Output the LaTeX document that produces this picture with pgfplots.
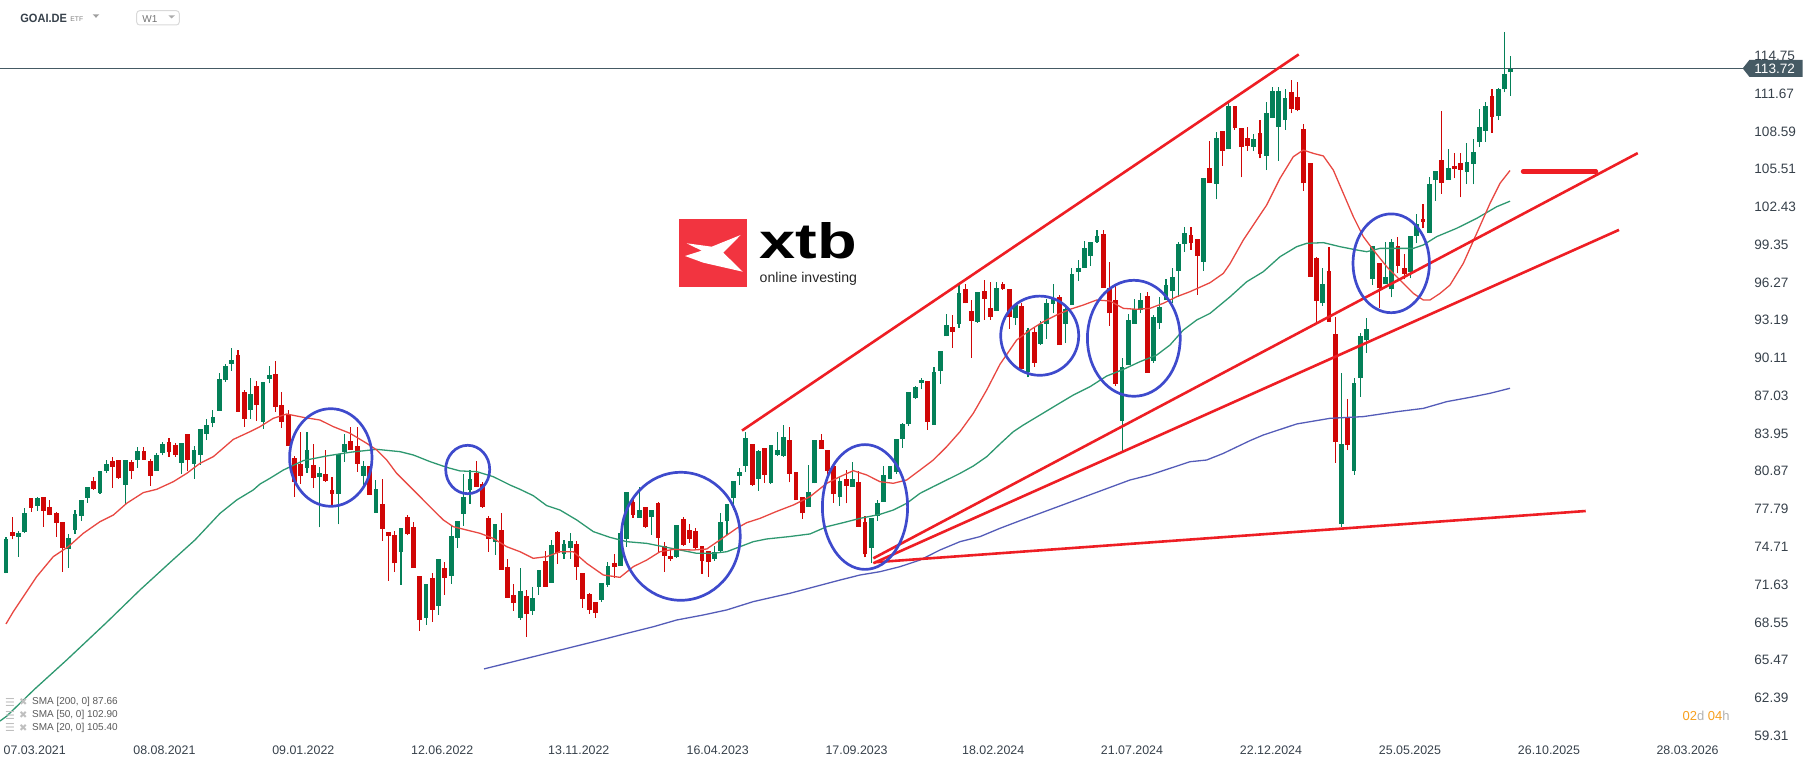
\documentclass[border=0pt]{standalone}
\usepackage{fontspec}
\setmainfont{Liberation Sans}
\newfontfamily\dejavu{DejaVu Sans}
\newfontfamily\logofont{Liberation Sans}
\usepackage{graphicx}
\usepackage{pgfplots}
\usepackage{pgfplotstable}
\pgfplotsset{compat=1.18}

\definecolor{cgreen}{RGB}{4,128,88}
\definecolor{cred}{RGB}{208,6,6}
\definecolor{smared}{RGB}{232,72,66}
\definecolor{smagreen}{RGB}{46,152,112}
\definecolor{smablue}{RGB}{84,92,184}
\definecolor{trend}{RGB}{238,30,36}
\definecolor{ring}{RGB}{62,74,204}
\definecolor{axtext}{RGB}{55,65,75}
\definecolor{pricebox}{RGB}{69,90,100}
\definecolor{xtbred}{RGB}{242,52,64}
\definecolor{cdorange}{RGB}{247,160,30}

% weekly candles, w = week index (0 = 07.03.2021)
\pgfplotstableread{
w o h l c
-3 72.60 75.54 72.55 75.32
-1 75.54 76.00 73.91 75.84
0 75.92 77.85 75.87 77.47
2 78.04 78.80 77.63 78.69
7 74.56 75.75 73.01 75.43
8 76.11 77.71 75.78 77.39
9 77.25 78.53 76.84 78.53
10 78.72 79.59 78.31 79.59
12 79.10 80.90 79.02 80.90
13 80.92 81.79 80.76 81.47
16 79.78 81.79 78.20 81.79
18 81.82 82.88 81.14 82.52
21 80.92 82.33 80.92 82.20
22 82.39 83.26 82.17 83.10
25 81.57 83.15 80.65 83.15
27 81.49 82.96 80.27 82.58
28 82.20 84.32 81.41 84.32
29 83.94 85.14 83.42 84.64
30 84.84 85.87 84.46 85.30
31 85.82 88.89 85.82 88.40
32 88.32 89.60 88.18 89.46
33 89.65 90.93 89.08 89.95
36 85.90 88.51 85.16 87.17
38 84.92 88.15 84.35 88.15
39 88.40 89.46 88.04 88.72
45 81.17 84.07 80.76 82.61
47 80.43 81.25 76.30 80.73
50 79.05 82.28 76.54 82.28
51 82.47 83.91 81.66 83.10
54 80.51 81.68 79.62 81.30
56 77.50 80.16 77.50 79.43
60 74.31 76.25 71.62 76.25
64 68.93 71.68 68.36 71.68
66 69.91 73.72 69.18 73.72
68 72.36 76.52 71.70 75.59
69 75.46 76.82 74.64 76.82
70 77.41 80.65 76.44 78.77
71 79.37 80.98 78.23 80.24
75 75.13 76.57 74.07 76.57
79 68.93 73.01 68.77 71.10
81 69.50 71.41 69.18 70.56
82 71.46 72.82 70.78 72.82
84 71.79 75.27 71.79 74.86
86 74.15 75.27 73.74 74.94
87 74.64 75.84 73.74 75.18
92 70.40 71.76 70.24 71.76
93 71.62 73.47 71.46 73.15
95 73.17 75.84 73.17 75.84
96 75.38 79.18 74.72 79.18
98 77.09 79.62 77.09 77.69
100 77.12 77.69 75.70 77.69
104 73.91 76.49 73.82 76.49
110 73.74 74.78 73.58 74.29
111 74.37 77.47 74.23 76.73
112 76.82 78.23 75.70 78.23
113 78.72 80.08 77.74 80.08
114 80.49 81.14 79.75 80.81
115 81.33 84.05 80.84 83.59
117 80.27 82.61 79.29 82.52
119 79.94 83.02 79.86 83.02
120 82.23 84.07 82.15 82.61
121 82.12 84.64 82.04 83.67
125 77.98 81.38 77.98 79.15
126 79.89 83.40 79.89 83.40
130 78.75 80.40 78.07 80.08
132 79.62 81.63 79.62 80.24
135 74.64 77.09 73.36 77.09
136 77.25 78.53 76.84 78.28
137 78.39 81.30 78.39 80.57
138 80.27 81.30 80.27 81.30
139 80.81 83.50 80.65 83.50
140 83.53 84.78 82.80 84.70
141 84.73 87.36 84.59 87.36
142 86.88 87.85 86.79 87.77
143 88.10 88.45 87.56 88.32
145 84.65 89.40 84.65 88.97
146 89.08 90.71 88.02 90.71
147 91.88 93.70 91.88 92.83
149 92.91 96.15 92.58 95.41
152 93.07 95.49 92.99 95.49
155 93.97 96.31 93.97 95.82
158 93.35 94.43 92.80 94.43
160 88.97 92.56 88.53 92.39
162 91.25 93.15 91.17 92.88
163 92.91 94.92 91.68 94.62
164 94.54 96.12 93.75 94.89
166 92.91 94.35 91.33 94.08
167 94.43 97.42 94.43 96.96
168 97.10 98.10 96.39 97.48
169 97.48 99.63 97.48 99.08
170 98.43 99.60 97.64 99.60
171 99.60 100.55 99.52 100.09
175 85.00 90.14 82.52 89.40
176 89.54 93.70 89.54 93.21
177 92.91 94.95 92.91 94.08
178 94.02 95.44 93.75 94.84
180 89.86 93.62 89.73 93.48
181 92.99 95.11 92.50 94.30
182 94.84 96.53 94.84 96.06
183 95.60 97.42 94.57 96.69
184 97.20 99.60 95.11 99.41
185 99.41 100.82 98.78 100.33
188 97.97 104.76 97.23 104.76
190 104.33 108.54 103.05 108.05
192 107.13 110.88 107.13 110.69
196 107.35 108.35 106.99 107.97
198 106.59 110.99 105.44 110.07
199 109.71 112.24 109.71 111.92
200 108.98 112.24 106.20 111.92
201 109.52 112.08 108.71 111.34
207 94.57 97.42 94.38 96.14
210 76.57 88.91 76.30 83.09
212 80.92 88.45 80.57 88.10
213 88.51 92.12 86.96 91.93
214 91.58 93.35 90.55 92.47
215 96.55 99.24 96.06 99.24
217 96.14 99.57 96.14 96.74
218 95.71 99.82 95.06 99.54
221 97.10 100.06 96.61 100.06
222 100.09 101.85 99.46 101.01
224 100.33 104.90 100.28 104.30
225 104.63 105.36 102.94 105.36
227 104.63 107.16 104.63 105.63
230 105.31 107.67 104.30 106.10
231 105.96 108.00 104.28 106.91
232 107.75 110.42 107.35 108.92
233 108.65 111.02 107.75 110.69
235 109.85 112.16 109.52 112.05
236 112.02 116.68 111.77 113.25
237 113.40 114.75 111.48 113.72
}\upc

\pgfplotstableread{
w o h l c
-2 75.92 77.14 75.32 75.62
1 78.69 78.69 77.55 77.90
3 78.77 78.77 76.35 77.63
4 77.96 78.53 77.28 77.33
5 77.47 77.55 75.54 76.68
6 76.74 76.74 72.68 74.61
11 80.08 80.43 79.35 79.43
14 81.71 82.06 79.53 81.25
15 81.79 81.79 80.24 80.35
17 81.63 81.79 80.24 80.92
19 82.52 82.88 81.82 81.82
20 81.71 81.90 79.70 80.51
23 83.26 83.61 82.04 82.44
24 82.99 83.15 82.04 82.23
26 83.91 83.91 80.92 81.79
34 90.36 90.76 85.73 85.73
35 87.34 87.50 84.51 85.16
37 87.83 88.24 85.00 86.31
40 88.81 89.86 85.73 86.14
41 86.28 87.34 84.43 84.92
42 85.54 85.87 82.96 82.96
43 81.95 82.12 78.80 80.02
44 81.47 84.07 79.86 80.51
46 81.41 83.10 79.53 80.35
48 80.65 82.61 80.02 80.10
49 79.35 80.43 77.98 79.05
52 83.31 84.48 82.63 82.63
53 82.93 84.48 80.84 81.49
55 81.30 81.30 78.96 78.96
57 78.20 80.24 75.21 76.19
58 75.92 75.92 71.95 75.62
59 75.67 76.00 72.68 73.36
61 77.14 77.31 75.67 75.75
62 76.33 76.73 73.01 73.01
63 72.33 72.33 67.87 68.77
65 72.17 72.57 68.61 69.58
67 72.98 73.45 70.78 72.19
72 80.73 81.71 79.62 79.62
73 79.86 80.02 77.90 77.98
74 77.06 77.22 74.31 75.38
76 76.08 77.47 72.85 72.85
77 73.06 73.72 70.56 70.56
78 70.78 71.68 69.50 70.16
80 70.70 71.19 67.38 69.26
83 73.55 74.37 71.46 71.46
85 75.92 76.00 73.34 74.23
88 74.94 75.18 72.03 73.09
89 72.60 72.60 69.75 70.48
90 70.89 70.97 69.26 69.58
91 70.24 70.24 68.93 69.34
94 73.39 74.12 72.19 73.09
97 78.36 78.72 77.09 77.33
99 77.96 77.96 76.27 76.35
101 78.28 78.36 74.31 75.46
102 74.80 75.13 72.68 73.99
103 73.96 74.45 73.58 73.74
105 76.98 77.14 74.80 74.89
106 76.08 76.57 75.05 75.38
107 76.00 76.25 74.53 74.64
108 74.78 74.78 72.52 73.58
109 74.37 74.37 72.27 73.50
116 83.10 83.10 79.70 79.78
118 82.77 82.77 79.94 80.59
122 83.40 84.51 79.97 80.65
123 80.81 80.81 78.50 78.50
124 78.75 78.75 77.01 77.44
127 83.40 83.94 82.69 82.69
128 82.61 82.61 80.16 80.92
129 81.30 81.30 78.31 79.02
131 80.24 80.98 78.26 79.70
133 80.00 80.89 76.35 76.35
134 76.76 77.25 73.85 74.10
144 88.23 88.23 84.27 84.92
148 92.61 93.62 90.95 92.26
150 95.74 96.15 94.57 94.57
151 93.94 94.84 90.14 93.16
153 95.58 96.47 93.21 94.95
154 94.16 96.31 93.21 93.46
156 96.15 96.31 95.66 95.74
157 95.74 95.74 92.48 93.48
159 94.35 94.57 89.24 89.24
161 92.20 92.66 89.40 89.73
165 95.05 95.22 91.17 91.17
172 100.22 100.55 95.84 95.84
173 95.84 97.91 92.75 93.75
174 94.84 95.98 87.82 87.99
179 95.14 95.52 88.91 88.91
186 100.14 100.82 98.92 99.52
187 99.79 99.79 95.25 98.45
189 105.61 107.84 104.38 104.38
191 108.62 108.62 105.80 107.02
193 110.69 110.69 108.71 108.90
194 108.90 108.90 104.85 107.35
195 108.05 108.98 107.02 107.43
197 108.46 109.52 106.40 106.72
202 111.83 112.78 110.07 110.45
203 111.40 112.62 110.23 110.34
204 108.82 109.20 103.76 104.36
205 105.99 105.99 96.74 96.74
206 98.24 98.37 93.00 94.79
208 97.23 99.19 93.07 93.07
209 92.07 93.48 81.57 83.29
211 85.27 86.74 82.60 83.01
216 97.89 97.89 94.16 95.79
219 99.24 99.95 97.01 97.64
220 97.45 98.59 96.53 96.99
223 101.45 102.67 100.69 101.18
226 106.26 110.25 103.49 104.41
228 105.80 106.80 104.76 105.55
229 106.01 106.80 103.21 105.47
234 111.48 112.08 108.49 109.79
}\downc

% moving averages (x in pixel columns of the chart, y = price)
\pgfplotstableread{
x y
6 68.42
13.3 69.42
36.7 72.28
53.3 73.91
68.3 74.72
83.3 75.81
100 76.76
113.3 77.30
126.7 78.26
143.3 79.13
156.7 79.40
173.3 80.02
186.7 80.70
200 81.52
213.3 82.06
233.3 83.47
250 84.10
260 84.51
273.3 85.19
286.7 85.54
303.3 85.27
320 85.05
333.3 84.51
350 83.97
366.7 83.15
376.7 82.61
386.7 81.79
396.7 80.70
413.3 79.35
430 77.98
443.3 76.90
453.3 76.35
466.7 76.08
480 75.81
493.3 75.40
506.7 74.72
520 74.31
533.3 73.77
546.7 73.91
560 74.31
573.3 74.31
586.7 73.36
603.3 72.41
620 72.22
633.3 73.09
646.7 73.63
660 74.31
673.3 74.50
693.3 74.45
706.7 74.53
720 75.27
736.7 76.22
746.7 76.68
760 77.03
776.7 77.60
793.3 78.12
810 78.80
826.7 79.89
840 80.43
853.3 80.92
866.7 80.57
880 80.02
893.3 79.89
906.7 80.16
920 80.97
933.3 81.79
946.7 82.88
960 84.10
973.3 85.60
986.7 87.50
1000 89.60
1016.7 91.58
1030 92.39
1043.3 93.07
1056.7 93.62
1070 94.08
1083.3 94.43
1096.7 94.84
1110 94.76
1123.3 94.16
1136.7 94.08
1150 94.16
1163.3 94.57
1176.7 95.11
1190 95.52
1210 96.25
1223.3 97.01
1230 97.80
1243.3 99.73
1256.7 101.37
1266.7 102.59
1280 104.76
1293.3 106.53
1303.3 107.07
1313.3 106.80
1323.3 106.59
1333.3 105.44
1343.3 103.54
1353.3 101.64
1363.3 100.01
1373.3 98.92
1386.7 97.56
1400 96.47
1413.3 95.38
1423.3 94.84
1430 94.84
1440 95.38
1450 96.06
1463.3 97.83
1476.7 100.28
1490 102.72
1500 104.36
1510 105.40
}\smaTwenty

\pgfplotstableread{
x y
0 60.50
6.7 60.90
35 63.13
66.7 65.48
106.7 68.55
140 71.19
170 73.43
195 75.27
220 77.44
236.7 78.53
253.3 79.35
260 79.83
270 80.30
283.3 80.97
303.3 81.74
326.7 82.12
350 82.42
376.7 82.66
400 82.47
413.3 82.20
430 81.66
446.7 81.19
460 80.90
476.7 80.84
493.3 80.43
510 79.75
520 79.40
533.3 78.88
546.7 78.07
560 77.71
576.7 76.90
593.3 75.95
610 75.48
626.7 75.13
646.7 74.99
663.3 74.72
680 74.45
696.7 74.18
713.3 74.18
726.7 74.31
740 74.72
753.3 75.13
766.7 75.35
790 75.55
810 75.76
826.7 76.35
843.3 76.68
860 77.03
880 77.36
893.3 77.71
906.7 78.26
920 79.07
933.3 79.62
946.7 80.16
960 80.70
973.3 81.30
986.7 82.06
1000 83.10
1013.3 84.10
1023.3 84.64
1040 85.46
1056.7 86.28
1073.3 87.09
1090 87.77
1106.7 88.64
1123.3 89.18
1140 89.81
1156.7 90.35
1170 91.17
1183.3 92.39
1196.7 93.21
1210 93.75
1230 95.10
1246.7 96.33
1263.3 97.15
1280 98.37
1296.7 99.19
1306.7 99.46
1323.3 99.52
1340 99.19
1356.7 98.92
1366.7 98.78
1380 99.05
1413.3 99.05
1423.3 99.33
1436.7 100.01
1456.7 100.69
1476.7 101.50
1496.7 102.45
1510 102.90
}\smaFifty

\pgfplotstableread{
x y
484 64.75
603.3 67.16
626.7 67.65
653.3 68.19
676.7 68.74
703.3 69.15
726.7 69.56
753.3 70.24
790 70.92
840 72.00
860 72.41
880 72.68
900 73.09
920 73.63
940 74.45
960 75.13
980 75.54
1000 76.22
1020 76.84
1075 78.50
1130 80.16
1150 80.57
1170 81.11
1190 81.65
1206.7 81.79
1223.3 82.33
1250 83.37
1263.3 83.83
1296.7 84.73
1330 85.19
1363.3 85.33
1396.7 85.73
1423.3 86.00
1446.7 86.55
1470 86.90
1490 87.23
1510 87.64
}\smaTwoHundred

\begin{document}
\begin{tikzpicture}
\begin{axis}[
  at={(0,0)}, anchor=south west,
  scale only axis, width=907.5pt, height=380.5pt,
  xmin=0, xmax=1815, ymin=57.24, ymax=119.31,
  axis line style={draw=none}, tick style={draw=none}, major tick length=0pt,
  ytick={59.31,62.39,65.47,68.55,71.63,74.71,77.79,80.87,83.95,87.03,90.11,93.19,96.27,99.35,102.43,105.51,108.59,111.67,114.75},
  yticklabels={59.31,62.39,65.47,68.55,71.63,74.71,77.79,80.87,83.95,87.03,90.11,93.19,96.27,99.35,102.43,105.51,108.59,111.67,114.75},
  yticklabel pos=right,
  yticklabel style={anchor=west, xshift=-30.5pt, inner sep=0pt, font=\fontsize{6.8pt}{7.5pt}\selectfont, text=axtext},
  xtick={34.7,164.4,303.3,442.2,578.8,717.7,856.6,993.2,1132,1271,1410,1549,1687.6},
  xticklabels={07.03.2021,08.08.2021,09.01.2022,12.06.2022,13.11.2022,16.04.2023,17.09.2023,18.02.2024,21.07.2024,22.12.2024,25.05.2025,26.10.2025,28.03.2026},
  xticklabel style={anchor=center, yshift=5.5pt, inner sep=0pt, font=\fontsize{6.2pt}{7pt}\selectfont, text=axtext},
]
\coordinate (TL) at (rel axis cs:0,1);
\coordinate (SW) at (rel axis cs:0,0);
\coordinate (NE) at (rel axis cs:1,1);

% last price line
\addplot[pricebox, line width=0.55pt, forget plot] coordinates {(0,113.72) (1743,113.72)};

% wicks
\addplot[forget plot, draw=none, mark=none, error bars/.cd, y dir=plus, y explicit, error mark=none,
  error bar style={line width=0.55pt, draw=cgreen}]
  table[x expr=24.8+6.27*\thisrow{w}, y=l, y error expr=\thisrow{h}-\thisrow{l}] {\upc};
\addplot[forget plot, draw=none, mark=none, error bars/.cd, y dir=plus, y explicit, error mark=none,
  error bar style={line width=0.55pt, draw=cred}]
  table[x expr=24.8+6.27*\thisrow{w}, y=l, y error expr=\thisrow{h}-\thisrow{l}] {\downc};
% bodies
\addplot[forget plot, draw=none, mark=none, error bars/.cd, y dir=plus, y explicit, error mark=none,
  error bar style={line width=2.4pt, draw=cgreen}]
  table[x expr=24.8+6.27*\thisrow{w}, y=o, y error expr=\thisrow{c}-\thisrow{o}] {\upc};
\addplot[forget plot, draw=none, mark=none, error bars/.cd, y dir=plus, y explicit, error mark=none,
  error bar style={line width=2.4pt, draw=cred}]
  table[x expr=24.8+6.27*\thisrow{w}, y=c, y error expr=\thisrow{o}-\thisrow{c}] {\downc};

% moving averages
\addplot[smablue, line width=0.65pt] table {\smaTwoHundred};
\addplot[smagreen, line width=0.65pt] table {\smaFifty};
\addplot[smared, line width=0.65pt] table {\smaTwenty};

% trend lines
\addplot[trend, line width=1.3pt] coordinates {(742,84.19) (1298.7,114.87)};
\addplot[trend, line width=1.3pt] coordinates {(873.3,73.77) (1637.7,106.82)};
\addplot[trend, line width=1.3pt] coordinates {(873.3,73.37) (1619,100.56)};
\addplot[trend, line width=1.3pt] coordinates {(875,73.45) (1585.7,77.63)};
\addplot[trend, line width=2.2pt, line cap=round] coordinates {(1523,105.32) (1596,105.32)};
\end{axis}

\begin{scope}[shift={(TL)}, x=0.5pt, y=-0.5pt]
% circles
\draw[ring, line width=1.35pt] (330.8,457.5) ellipse [x radius=20.6pt, y radius=24.4pt];
\draw[ring, line width=1.35pt] (467.7,469.5) ellipse [x radius=11.0pt, y radius=12.1pt];
\draw[ring, line width=1.35pt] (680.8,536.3) ellipse [x radius=29.7pt, y radius=32.0pt];
\draw[ring, line width=1.35pt] (865,507) ellipse [x radius=21.3pt, y radius=31.2pt];
\draw[ring, line width=1.35pt] (1039.7,335.7) ellipse [x radius=19.5pt, y radius=19.8pt];
\draw[ring, line width=1.35pt] (1133.8,338.3) ellipse [x radius=23.2pt, y radius=29.0pt];
\draw[ring, line width=1.35pt] (1391.2,263.3) ellipse [x radius=19.1pt, y radius=24.7pt];

% price box
\fill[pricebox] (1742.7,68.4) -- (1749.5,59.8) -- (1802.7,59.8) -- (1802.7,77) -- (1749.5,77) -- cycle;
\node[anchor=west, inner sep=0pt, text=white, font=\fontsize{6.8pt}{7.5pt}\selectfont] at (1754,68.6) {113.72};

% header
\node[anchor=base west, inner sep=0pt, text=axtext, font=\fontsize{6pt}{7pt}\selectfont\bfseries] at (20,22.7) {\scalebox{0.92}[1]{GOAI.DE}};
\node[anchor=base west, inner sep=0pt, text=gray, font=\fontsize{3.4pt}{4pt}\selectfont] at (70,21.5) {ETF};
\fill[gray!75] (92.7,14.3) -- (99.3,14.3) -- (96,17.8) -- cycle;
\draw[gray!30, line width=0.5pt, rounded corners=1.5pt] (136.7,10.7) rectangle (179.3,25);
\node[anchor=base west, inner sep=0pt, text=gray!90!black, font=\fontsize{5pt}{6pt}\selectfont] at (142,22.2) {W1};
\fill[gray!65] (168.3,15.3) -- (175,15.3) -- (171.65,18.5) -- cycle;

% xtb logo
\fill[xtbred] (679.3,219) rectangle (746.7,287.3);
\fill[white] (686.7,243.3) -- (711.7,246.7) -- (740.7,235) -- (723.3,252.7) -- (742.7,271.7) -- (703.3,262.7) -- (685,256) -- (701.7,250.7) -- cycle;
\node[anchor=south west, inner sep=0pt] at (759.3,259) {\resizebox{48.7pt}{18pt}{\logofont\bfseries xtb}};
\node[anchor=base west, inner sep=0pt, text=black!85] at (759.3,283) {\resizebox{48.7pt}{!}{\logofont online investing}};

% legend
\foreach \yy/\txt in {702.3/{SMA [200,\ 0] 87.66}, 715/{SMA [50,\ 0] 102.90}, 727.7/{SMA [20,\ 0] 105.40}} {
  \node[inner sep=0pt, text=gray!50, font=\dejavu\fontsize{5.5pt}{5.5pt}\selectfont] at (10,\yy) {☰};
  \node[inner sep=0pt, text=gray!50, font=\dejavu\fontsize{5pt}{5pt}\selectfont] at (23.3,\yy) {✖};
  \node[anchor=west, inner sep=0pt, text=black!65, font=\fontsize{5pt}{6pt}\selectfont] at (31.7,\yy) {\txt};
}

% countdown
\node[anchor=east, inner sep=0pt, font=\fontsize{6.5pt}{7pt}\selectfont] at (1730,716) {\textcolor{cdorange}{02}\textcolor{gray!60}{d} \textcolor{cdorange}{04}\textcolor{gray!60}{h}};
\end{scope}

\pgfresetboundingbox
\path[use as bounding box] (SW) rectangle (NE);
\end{tikzpicture}
\end{document}
